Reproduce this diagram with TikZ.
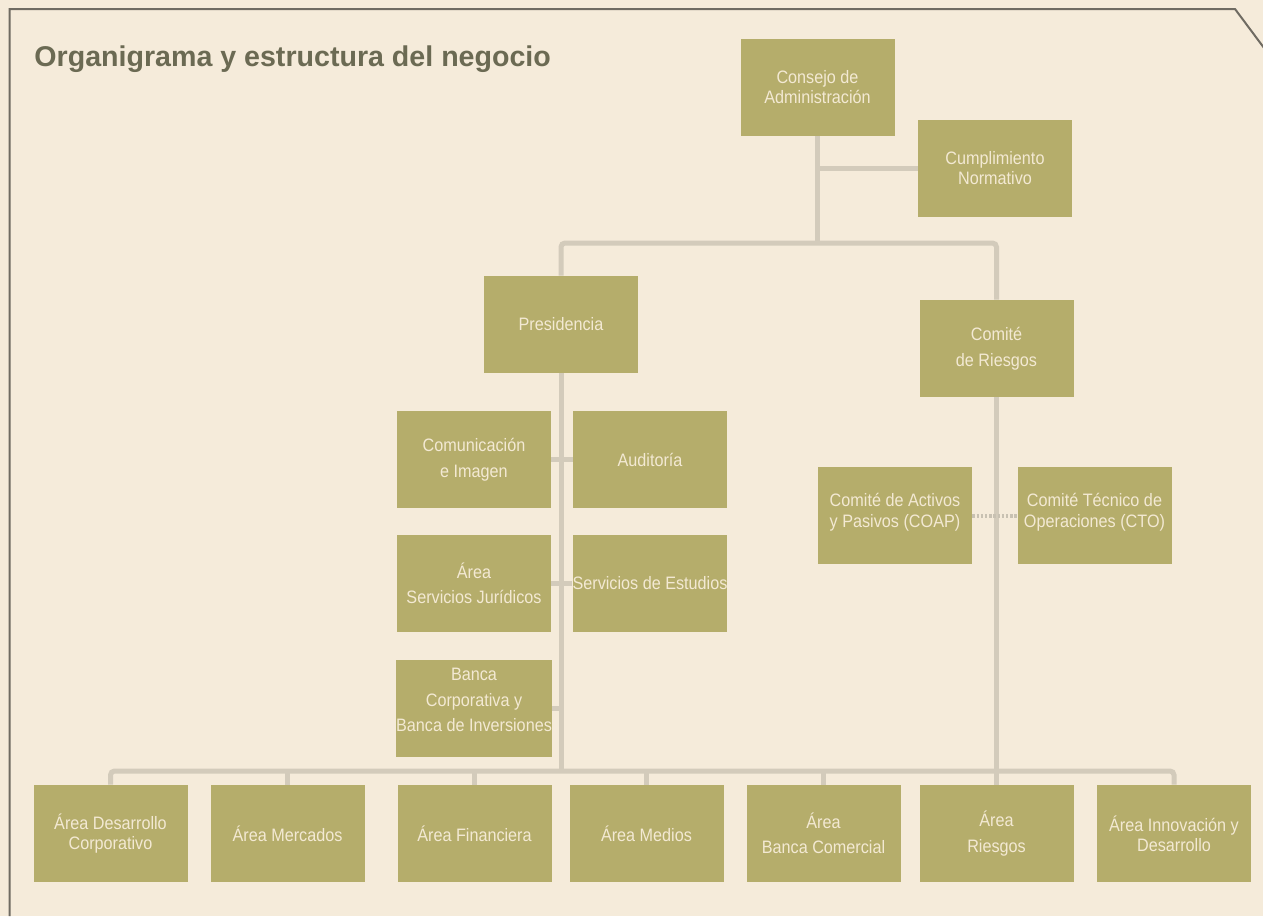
\documentclass[tikz,border=0pt]{standalone}
\usepackage{fontspec}
\newfontfamily\titlefont{Liberation Sans}
\newfontfamily\boxfont[FakeStretch=0.9]{Liberation Sans}
\definecolor{bgc}{HTML}{F5EBDA}
\definecolor{boxc}{HTML}{B5AD6B}
\definecolor{txtc}{HTML}{F3E9D3}
\definecolor{linec}{HTML}{D3CBBB}
\definecolor{titlec}{HTML}{6B6A53}
\definecolor{framec}{HTML}{6F6B62}
\pgfdeclarelayer{bglayer}
\pgfdeclarelayer{lines}
\pgfsetlayers{bglayer,lines,main}
\tikzset{
  orgbox/.style={fill=boxc, draw=none, text=txtc, minimum width=77pt, minimum height=48.5pt,
    inner sep=0pt, align=center, font=\boxfont\fontsize{9}{10}\selectfont},
  widebox/.style={orgbox, font=\boxfont\fontsize{9}{12.75}\selectfont},
  midbox/.style={orgbox, font=\boxfont\fontsize{9}{10.5}\selectfont},
  conn/.style={draw=linec, line width=2.5pt, rounded corners=2pt},
  dotconn/.style={draw=linec!95!black, line width=2pt, dash pattern=on 1.2pt off 0.9pt}
}
\begin{document}
\begin{tikzpicture}[x=0.5pt, y=-0.5pt]
\begin{pgfonlayer}{bglayer}
  \fill[bgc] (0,0) rectangle (1263,916);
  \useasboundingbox (0,0) rectangle (1263,916);
  \begin{scope}
    \clip (0,0) rectangle (1263,916);
    \draw[framec, line width=1pt] (9.5,916) -- (9.5,9) -- (1235,9) -- (1270,56);
  \end{scope}
\end{pgfonlayer}

\node[anchor=base west, text=titlec, font=\titlefont\bfseries\fontsize{14.3}{16}\selectfont, inner sep=0pt] (title) at (34,66) {Organigrama y estructura del negocio};

\node[orgbox] (cons) at (817.5,87.5) {Consejo de\\Administración};
\node[orgbox] (cump) at (995,168.5) {Cumplimiento\\Normativo};
\node[orgbox] (pres) at (561,324.5) {Presidencia};
\node[widebox] (riesg) at (996.5,348.5) {Comité\\de Riesgos};
\node[widebox] (comu) at (474,459.5) {Comunicación\\e Imagen};
\node[orgbox] (audi) at (650,459.5) {Auditoría};
\node[widebox] (juri) at (474,583.5) {Área\\Servicios Jurídicos};
\node[orgbox] (estu) at (650,583.5) {Servicios de Estudios};
\node[widebox, text depth=8.5pt] (banca) at (474,708.5) {Banca\\Corporativa y\\Banca de Inversiones};
\node[midbox, text depth=5.5pt] (coap) at (895,515.5) {Comité de Activos\\y Pasivos (COAP)};
\node[midbox, text depth=5.5pt] (cto) at (1094.5,515.5) {Comité Técnico de\\Operaciones (CTO)};

\node[orgbox] (adc) at (110.5,833.5) {Área Desarrollo\\Corporativo};
\node[orgbox] (amer) at (287.5,833.5) {Área Mercados};
\node[orgbox] (afin) at (474.5,833.5) {Área Financiera};
\node[orgbox] (amed) at (646.5,833.5) {Área Medios};
\node[widebox] (acom) at (823.5,833.5) {Área\\Banca Comercial};
\node[widebox] (arie) at (996.5,833.5) {Área\\Riesgos};
\node[orgbox] (ainn) at (1174,833.5) {Área Innovación y\\Desarrollo};

\coordinate (jtop) at (817.5,243);
\coordinate (jbar) at (561,771);

\begin{pgfonlayer}{lines}
  \draw[conn] (cons.south) -- (jtop);
  \draw[conn] (cons.south |- cump.west) -- (cump.west);
  \draw[conn] (pres.north) |- (jtop) -| (riesg.north);
  \draw[conn] (pres.south) -- (jbar);
  \draw[conn] (riesg.south) -- (arie.north);
  \draw[conn] (adc.north) |- (jbar) -| (ainn.north);
  \draw[conn] (amer.north) -- (amer.north |- jbar);
  \draw[conn] (afin.north) -- (afin.north |- jbar);
  \draw[conn] (amed.north) -- (amed.north |- jbar);
  \draw[conn] (acom.north) -- (acom.north |- jbar);
  \draw[conn] (comu.east) -- (audi.west);
  \draw[conn] (juri.east) -- (estu.west);
  \draw[conn] (banca.east) -- (banca.east -| jbar);
  \draw[dotconn] (coap.east) -- (cto.west);
\end{pgfonlayer}
\end{tikzpicture}
\end{document}
